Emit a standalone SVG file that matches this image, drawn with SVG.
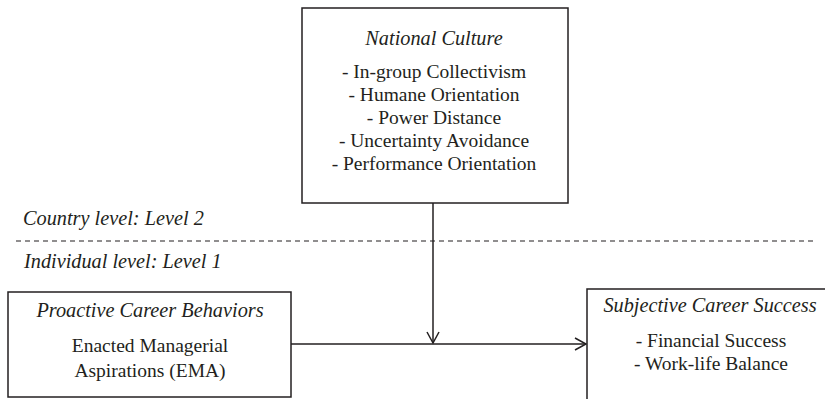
<svg xmlns="http://www.w3.org/2000/svg" width="825" height="399" viewBox="0 0 825 399">
<style>
text{font-size:19.5px;fill:#231f20}
.c{text-anchor:middle}
.i{font-style:italic;font-size:20.3px}
.box{fill:#fff;stroke:#231f20;stroke-width:1.5}
.ln{stroke:#231f20;stroke-width:1.5;fill:none}
</style>
<defs>
<marker id="ah" markerWidth="14" markerHeight="14" refX="12" refY="7" orient="auto" markerUnits="userSpaceOnUse">
<path d="M1,1 L12,7 L1,13" fill="none" stroke="#231f20" stroke-width="1.5"/>
</marker>
</defs>
<rect width="825" height="399" fill="#fff"/>
<g font-family="Liberation Serif, serif">
<g id="levels">
<line x1="16" y1="241" x2="813" y2="241" stroke="#231f20" stroke-width="1.2" stroke-dasharray="5,4"/>
<text class="i" x="23" y="225">Country level: Level 2</text>
<text class="i" x="24" y="268">Individual level: Level 1</text>
</g>
<g id="connectors">
<line class="ln" x1="291" y1="344" x2="586" y2="344" marker-end="url(#ah)"/>
<line class="ln" x1="433" y1="203" x2="433" y2="343" marker-end="url(#ah)"/>
</g>
<g id="national-culture">
<rect class="box" x="302" y="8" width="266" height="195"/>
<text class="c i" x="434" y="45">National Culture</text>
<text class="c" x="434" y="78">- In-group Collectivism</text>
<text class="c" x="434" y="101">- Humane Orientation</text>
<text class="c" x="434" y="124">- Power Distance</text>
<text class="c" x="434" y="147">- Uncertainty Avoidance</text>
<text class="c" x="434" y="170">- Performance Orientation</text>
</g>
<g id="proactive">
<rect class="box" x="8" y="292" width="283" height="105"/>
<text class="c i" x="150" y="317">Proactive Career Behaviors</text>
<text class="c" x="150" y="352">Enacted Managerial</text>
<text class="c" x="150" y="377">Aspirations (EMA)</text>
</g>
<g id="success">
<rect class="box" x="587" y="289" width="260" height="130"/>
<text class="c i" x="710" y="312">Subjective Career Success</text>
<text class="c" x="711" y="347">- Financial Success</text>
<text class="c" x="711" y="370">- Work-life Balance</text>
</g>
</g>
</svg>
